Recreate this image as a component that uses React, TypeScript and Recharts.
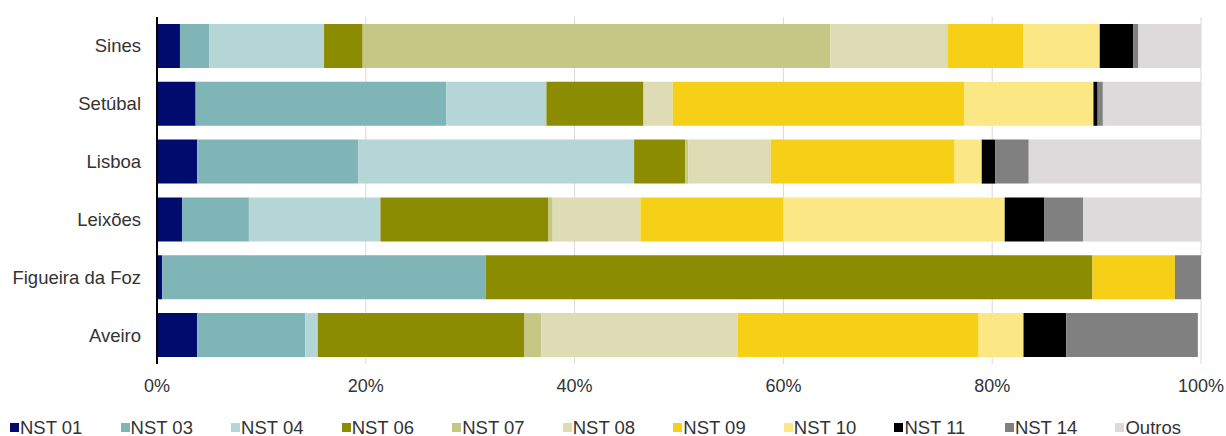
import { BarChart, Bar, XAxis, YAxis, CartesianGrid, Legend } from 'recharts'

const PORTS = ['Sines', 'Setúbal', 'Lisboa', 'Leixões', 'Figueira da Foz', 'Aveiro']

const SERIES = ['NST 01', 'NST 03', 'NST 04', 'NST 06', 'NST 07', 'NST 08', 'NST 09', 'NST 10', 'NST 11', 'NST 14', 'Outros']

// share (%) of each port's traffic per NST group, in PORTS order
const NST01 = [2.2, 3.7, 3.85, 2.4, 0.5, 3.85]
const NST03 = [2.8, 24.0, 15.45, 6.4, 31.0, 10.35]
const NST04 = [11.0, 9.6, 26.4, 12.6, 0, 1.2]
const NST06 = [3.7, 9.3, 4.9, 16.1, 58.1, 19.8]
const NST07 = [44.8, 0, 0.3, 0.4, 0, 1.6]
const NST08 = [11.2, 2.8, 7.9, 8.4, 0, 18.8]
const NST09 = [7.3, 27.9, 17.6, 13.7, 7.9, 23.1]
const NST10 = [7.3, 12.4, 2.6, 21.2, 0, 4.3]
const NST11 = [3.2, 0.4, 1.3, 3.8, 0, 4.1]
const NST14 = [0.5, 0.5, 3.2, 3.7, 2.5, 12.6]
const OUTROS = [6.0, 9.4, 16.5, 11.3, 0, 0]

const X_TICKS = [0, 20, 40, 60, 80, 100]

const COLORS = ['#000b6e', '#7fb5b7', '#b4d6d6', '#8c8c03', '#c5c785', '#dedcb4', '#f5d016', '#fbe784', '#000000', '#808080', '#dcdadb']

const VALUES = [NST01, NST03, NST04, NST06, NST07, NST08, NST09, NST10, NST11, NST14, OUTROS]

const data = PORTS.map((port, i) => {
  const row: Record<string, string | number> = { port }
  SERIES.forEach((s, j) => {
    row[s] = VALUES[j][i]
  })
  return row
})

const FONT = '"Liberation Sans", Arial, sans-serif'
const TEXT = '#333333'

function LegendRow() {
  return (
    <div style={{ display: 'flex', height: 36, paddingTop: 19, boxSizing: 'border-box', paddingLeft: 10 }}>
      {SERIES.map((s, i) => (
        <div key={s} style={{ width: 113, display: 'flex', alignItems: 'center', fontFamily: FONT, fontSize: 18.5, color: TEXT, lineHeight: '20px' }}>
          <span style={{ display: 'inline-block', width: 9, height: 9, background: COLORS[i], marginRight: 1 }} />
          {s}
        </div>
      ))}
    </div>
  )
}

export default function App() {
  return (
    <div style={{ position: 'absolute', left: 0, top: 0, background: '#fff' }}>
      <BarChart
        width={1226}
        height={436}
        data={data}
        layout="vertical"
        margin={{ top: 17, right: 25, left: 0, bottom: 0 }}
        barCategoryGap="12%"
      >
        <CartesianGrid horizontal={false} stroke="#d9d9d9" />
        <XAxis
          type="number"
          domain={[0, 100]}
          ticks={X_TICKS}
          tickFormatter={(v) => `${v}%`}
          axisLine={false}
          tickLine={false}
          tickSize={0}
          tickMargin={15}
          height={36}
          tick={{ fontSize: 18, fill: TEXT, fontFamily: FONT }}
          interval={0}
        />
        <YAxis
          type="category"
          dataKey="port"
          width={157}
          axisLine={{ stroke: '#000', strokeWidth: 2 }}
          tickLine={false}
          tickSize={0}
          tickMargin={16}
          tick={{ fontSize: 18.5, fill: TEXT, fontFamily: FONT }}
        />
        <Legend verticalAlign="bottom" align="left" content={() => <LegendRow />} wrapperStyle={{ left: 0, width: 1226 }} />
        {SERIES.map((s, i) => (
          <Bar key={s} dataKey={s} stackId="a" fill={COLORS[i]} isAnimationActive={false} />
        ))}
      </BarChart>
    </div>
  )
}
